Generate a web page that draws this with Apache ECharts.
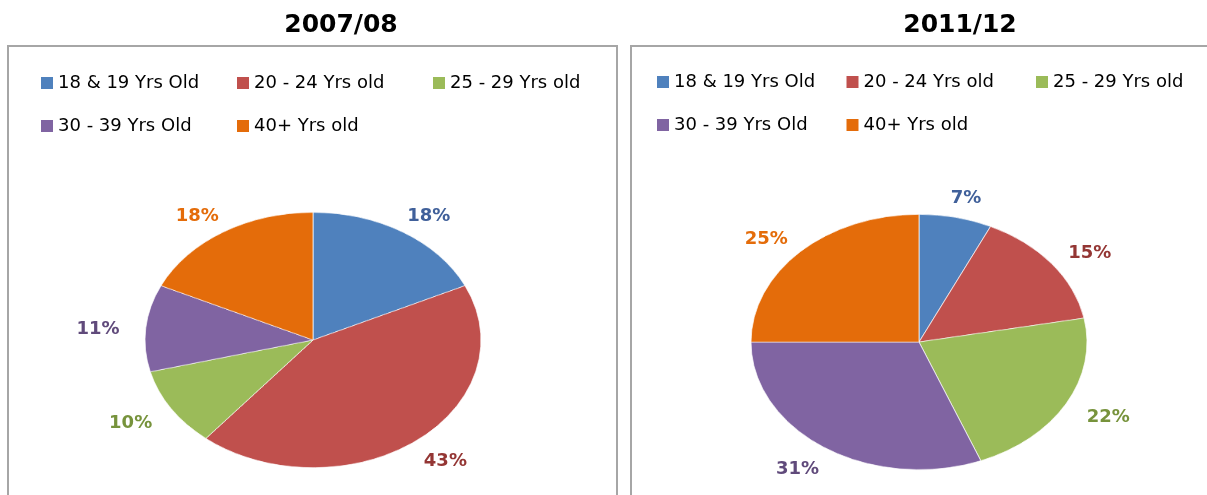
<!DOCTYPE html>
<html><head><meta charset="utf-8">
<script src="https://cdn.jsdelivr.net/npm/echarts@6/dist/echarts.min.js"></script>
<style>
html,body{margin:0;padding:0;width:1207px;height:495px;overflow:hidden;background:#fff;}
#pies{position:absolute;left:0;top:0;width:1207px;height:600px;transform:scaleY(0.76);transform-origin:0 341px;}
#main{position:absolute;left:0;top:0;width:1207px;height:495px;}
</style></head><body>
<div id="pies"></div><div id="main"></div>
<script>
// ---- data ----
const categories = ['18 & 19 Yrs Old', '20 - 24 Yrs old', '25 - 29 Yrs old', '30 - 39 Yrs Old', '40+ Yrs old'];
const values2007 = [18, 43, 10, 11, 18];
const values2011 = [7, 15, 22, 31, 25];
const panelTitles = ['2007/08', '2011/12'];

// ---- styling / layout ----
const sliceColors = ['#4F81BD', '#C0504D', '#9BBB59', '#8064A2', '#E46C0A'];
const labelColors = ['#40609A', '#943634', '#77933C', '#604A7B', '#E46C0A'];
const FONT = 'DejaVu Sans';
const SCALE_Y = 0.76, ORIGIN_Y = 341;
const RADIUS = 168;
const pieCenters = [[313, 340], [919, 342]];
const LABEL_RX = 216, LABEL_RY = 150, LABEL_DY = 3;
const seriesValues = [values2007, values2011];

// pies (drawn as circles, viewed with a vertical perspective squash)
const pies = echarts.init(document.getElementById('pies'), null, {renderer: 'canvas'});
pies.setOption({
  animation: false,
  series: seriesValues.map((vals, s) => ({
    type: 'pie',
    center: [pieCenters[s][0], ORIGIN_Y + (pieCenters[s][1] - ORIGIN_Y) / SCALE_Y],
    radius: RADIUS,
    startAngle: 90,
    clockwise: true,
    label: {show: false},
    labelLine: {show: false},
    emphasis: {disabled: true},
    itemStyle: {borderColor: 'rgba(255,255,255,0.7)', borderWidth: 1},
    data: categories.map((c, i) => ({name: c, value: vals[i], itemStyle: {color: sliceColors[i]}}))
  }))
});

// titles, legends, frames and labels (unsquashed)
const chart = echarts.init(document.getElementById('main'), null, {renderer: 'canvas'});
function layoutLabel(params) {
  const vals = seriesValues[params.seriesIndex];
  const total = vals.reduce((a, b) => a + b, 0);
  let cum = 0;
  for (let i = 0; i < params.dataIndex; i++) cum += vals[i];
  const theta = (cum + vals[params.dataIndex] / 2) / total * Math.PI * 2;
  const c = pieCenters[params.seriesIndex];
  return {
    x: c[0] + LABEL_RX * Math.sin(theta),
    y: c[1] - LABEL_RY * Math.cos(theta) + LABEL_DY,
    align: 'center',
    verticalAlign: 'middle'
  };
}
const legendData = categories.map((c, i) => ({name: c, itemStyle: {color: sliceColors[i]}}));
chart.setOption({
  animation: false,
  backgroundColor: 'transparent',
  graphic: [
    {type: 'rect', z: -1, shape: {x: 8, y: 46, width: 609, height: 500}, style: {fill: 'none', stroke: '#A6A6A6', lineWidth: 2}},
    {type: 'rect', z: -1, shape: {x: 631, y: 46, width: 640, height: 500}, style: {fill: 'none', stroke: '#A6A6A6', lineWidth: 2}}
  ],
  title: [
    {text: panelTitles[0], left: 336, top: 8, textAlign: 'center',
     textStyle: {fontFamily: FONT, fontWeight: 'bold', fontSize: 25, color: '#000'}},
    {text: panelTitles[1], left: 955, top: 8, textAlign: 'center',
     textStyle: {fontFamily: FONT, fontWeight: 'bold', fontSize: 25, color: '#000'}}
  ],
  legend: [
    {left: 41, top: 74, width: 580, padding: 0, orient: 'horizontal', icon: 'rect', itemWidth: 12, itemHeight: 12, itemGap: 25,
     selectedMode: false, data: legendData,
     textStyle: {fontFamily: FONT, fontSize: 18, color: '#000', width: 154, lineHeight: 14}},
    {left: 657, top: 73, width: 560, padding: 0, orient: 'horizontal', icon: 'rect', itemWidth: 12, itemHeight: 12, itemGap: 25,
     selectedMode: false, data: legendData,
     textStyle: {fontFamily: FONT, fontSize: 18, color: '#000', width: 147.5, lineHeight: 14}}
  ],
  series: seriesValues.map((vals, s) => ({
    type: 'pie',
    center: pieCenters[s],
    radius: RADIUS,
    startAngle: 90,
    clockwise: true,
    silent: true,
    avoidLabelOverlap: false,
    emphasis: {disabled: true},
    itemStyle: {color: 'rgba(0,0,0,0)'},
    label: {show: true, position: 'outside', formatter: '{c}%', fontFamily: FONT, fontWeight: 'bold', fontSize: 18},
    labelLine: {show: false},
    labelLayout: layoutLabel,
    data: categories.map((c, i) => ({name: c, value: vals[i], label: {color: labelColors[i]}}))
  }))
});
</script>
</body></html>
